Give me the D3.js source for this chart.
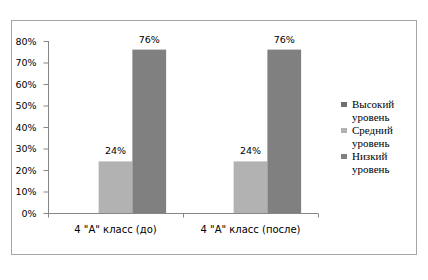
<!DOCTYPE html>
<html lang="ru">
<head>
<meta charset="utf-8">
<script src="https://d3js.org/d3.v7.min.js"></script>
<style>
  body { margin: 0; background: #fff; }
  svg { display: block; }
</style>
</head>
<body>
<div id="chart"></div>
<script>
// data
var categories = ['4 "А" класс (до)', '4 "А" класс (после)'];
var seriesNames = ["Высокий уровень", "Средний уровень", "Низкий уровень"];
var high = [0, 0];
var middle = [0.24, 0.24];
var low = [0.76, 0.76];
var yTicks = [0, 0.1, 0.2, 0.3, 0.4, 0.5, 0.6, 0.7, 0.8];

var colors = ["#6e6e6e", "#b2b2b2", "#808080"];
var values = [high, middle, low];
var sans = "'DejaVu Sans', Verdana, sans-serif";
var serif = "'Liberation Serif', 'Times New Roman', serif";

var w = 428, h = 280;
var svg = d3.select("#chart").append("svg")
  .attr("width", w).attr("height", h);

// outer frame
svg.append("rect")
  .attr("x", 11.5).attr("y", 20.5)
  .attr("width", 405).attr("height", 234)
  .attr("fill", "#fff").attr("stroke", "#a6a6a6");

var x0 = d3.scaleBand().domain(d3.range(categories.length)).range([48, 318]);
var x1 = d3.scaleBand().domain(d3.range(seriesNames.length))
  .range([0, x0.bandwidth()]).paddingOuter(0.5);
var y = d3.scaleLinear().domain([0, 0.8]).range([213, 41]);

// bars + value labels
values.forEach(function(s, si) {
  svg.selectAll(".bar" + si)
    .data(s)
    .enter().append("rect")
    .attr("x", function(d, i) { return x0(i) + x1(si); })
    .attr("y", function(d) { return y(d); })
    .attr("width", x1.bandwidth())
    .attr("height", function(d) { return y(0) - y(d); })
    .attr("fill", colors[si]);

  svg.selectAll(".lbl" + si)
    .data(s.filter(function(d) { return d > 0; }).length ? s : [])
    .enter().append("text")
    .style("font-family", sans)
    .attr("x", function(d, i) { return x0(i) + x1(si) + x1.bandwidth() / 2; })
    .attr("y", function(d) { return y(d) - 7; })
    .attr("text-anchor", "middle")
    .attr("font-size", "9.5px")
    .attr("fill", "#000")
    .text(function(d) { return Math.round(d * 100) + "%"; });
});

// y axis
var yAxis = svg.append("g")
  .attr("transform", "translate(48.5,0)")
  .call(d3.axisLeft(y).tickValues(yTicks).tickSize(5).tickPadding(7)
    .tickFormat(function(d) { return Math.round(d * 100) + "%"; }));
yAxis.select(".domain").attr("stroke", "#868686").attr("d", "M0," + y(0.8) + "V" + y(0));
yAxis.selectAll(".tick line").attr("stroke", "#868686");
yAxis.selectAll("text")
  .style("font-family", sans)
  .attr("font-size", "9.5px").attr("fill", "#000");

// x axis
var xAxisG = svg.append("g").attr("transform", "translate(0," + (y(0) + 0.5) + ")");
xAxisG.append("line")
  .attr("x1", 48).attr("x2", 318).attr("stroke", "#868686");
xAxisG.selectAll(".xt")
  .data([48, 48 + x0.bandwidth(), 318])
  .enter().append("line")
  .attr("x1", function(d) { return Math.round(d) + 0.5; })
  .attr("x2", function(d) { return Math.round(d) + 0.5; })
  .attr("y1", 0).attr("y2", 4)
  .attr("stroke", "#868686");
xAxisG.selectAll(".xl")
  .data(categories)
  .enter().append("text")
  .style("font-family", sans)
  .attr("x", function(d, i) { return x0(i) + x0.bandwidth() / 2; })
  .attr("y", 19)
  .attr("text-anchor", "middle")
  .attr("font-size", "10px")
  .text(function(d) { return d; });

// legend
var legend = svg.append("g");
seriesNames.forEach(function(name, i) {
  var g = legend.append("g").attr("transform", "translate(341," + (108 + i * 26) + ")");
  g.append("rect").attr("x", 0).attr("y", -6).attr("width", 6).attr("height", 5)
    .attr("fill", colors[i]);
  var t = g.append("text")
    .style("font-family", serif)
    .attr("font-size", "11px").attr("fill", "#000");
  name.split(" ").forEach(function(part, j) {
    t.append("tspan").attr("x", 11).attr("y", j * 12.8).text(part);
  });
});
</script>
</body>
</html>
